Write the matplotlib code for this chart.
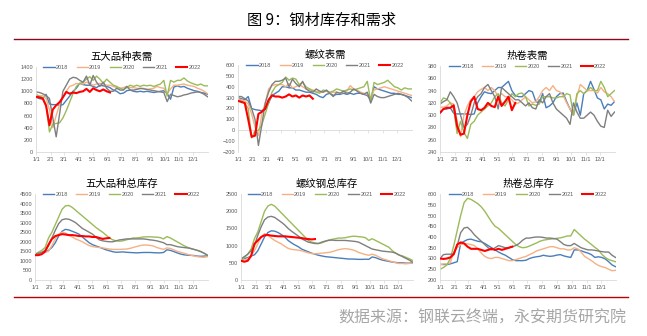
import numpy as np
import matplotlib
matplotlib.use('Agg')
import matplotlib.pyplot as plt
from matplotlib.lines import Line2D

plt.rcParams['font.family'] = ['Liberation Sans', 'Noto Sans CJK SC', 'DejaVu Sans']

# ---- data (weekly) ----
years = ['2018', '2019', '2020', '2021', '2022']
colors = ['#4A7EBB', '#F5B183', '#9BBB59', '#7F7F7F', '#FF0000']
month_labels = ['1/1', '2/1', '3/1', '4/1', '5/1', '6/1', '7/1', '8/1', '9/1', '10/1', '11/1', '12/1']
month_days = [0, 31, 59, 90, 120, 151, 181, 212, 243, 273, 304, 334]

# 五大品种表需
d5_2018 = [900, 880, 870, 950, 790, 780, 780, 770, 780, 850,
           920, 1000, 1050, 1130, 1110, 1100, 1100, 1080, 1060, 1100,
           1090, 1080, 1060, 1020, 1000, 960, 970, 1010, 1020, 1000,
           990, 1000, 990, 1000, 990, 980, 990, 1000, 1010, 960,
           870, 1070, 1090, 1070, 1080, 1050, 1030, 1010, 1000, 980,
           970, 950]
d5_2019 = [880, 920, 930, 880, 700, 400, 600, 780, 900, 1000,
           1080, 1100, 1130, 1120, 1120, 1150, 1130, 1100, 1120, 1130,
           1120, 1100, 1100, 1080, 1060, 1050, 1060, 1080, 1060, 1060,
           1050, 1040, 1050, 1030, 1040, 1050, 1080, 1060, 1050, 960,
           1040, 1100, 1100, 1110, 1120, 1100, 1090, 1080, 1050, 1030,
           1000, 960]
d5_2020 = [950, 920, 900, 780, 330, 460, 470, 480, 560, 680,
           820, 960, 1080, 1130, 1150, 1200, 1240, 1180, 1250, 1200,
           1130, 1200, 1150, 1100, 1080, 1050, 1030, 1060, 1100, 1080,
           1100, 1080, 1100, 1090, 1100, 1080, 1100, 1120, 1180, 920,
           1180, 1150, 1180, 1180, 1220, 1170, 1140, 1120, 1100, 1120,
           1090, 1090]
d5_2021 = [990, 980, 960, 930, 880, 560, 250, 620, 1000, 1100,
           1200, 1230, 1220, 1180, 1150, 1250, 1100, 1260, 1150, 1080,
           1150, 1050, 1000, 1000, 1050, 1020, 1020, 1080, 1020, 1020,
           1030, 1050, 1040, 1030, 1020, 1010, 1000, 990, 980, 830,
           950, 930, 910, 920, 940, 950, 970, 980, 990, 980,
           950, 910]
d5_2022 = [910, 900, 880, 760, 440, 700, 770, 820, 900, 990, 960, 980, 970,
           990, 1000, 1040, 990, 1050, 1020, 1000, 1030, 1000, 980]

# 螺纹表需
rb_2018 = [300, 290, 280, 310, 200, 190, 185, 180, 190, 250,
           320, 340, 360, 400, 400, 390, 390, 370, 370, 360,
           350, 350, 340, 330, 310, 300, 330, 340, 320, 330,
           330, 340, 330, 340, 330, 340, 340, 330, 320, 280,
           400, 380, 370, 360, 350, 340, 340, 330, 330, 320,
           310, 300]
rb_2019 = [290, 280, 270, 240, 150, 30, -50, 150, 250, 380,
           410, 420, 420, 420, 400, 430, 390, 400, 420, 400,
           380, 380, 370, 360, 350, 350, 360, 340, 350, 350,
           340, 350, 360, 410, 380, 370, 350, 340, 330, 300,
           370, 380, 390, 400, 390, 380, 370, 360, 350, 340,
           330, 320]
rb_2020 = [280, 270, 250, 200, -70, -10, 0, 50, 150, 250,
           350, 400, 420, 440, 490, 460, 480, 470, 420, 440,
           400, 380, 360, 350, 340, 370, 360, 350, 360, 380,
           370, 360, 370, 380, 370, 380, 390, 400, 450, 270,
           440, 420, 430, 440, 460, 430, 400, 390, 370, 390,
           380, 380]
rb_2021 = [310, 310, 290, 270, 200, 100, -140, 50, 250, 350,
           420, 450, 450, 460, 480, 400, 470, 430, 400, 450,
           380, 360, 350, 380, 360, 350, 370, 340, 310, 350,
           340, 360, 340, 350, 380, 360, 340, 330, 350, 250,
           330, 310, 300, 300, 310, 320, 330, 340, 330, 320,
           300, 270]
rb_2022 = [270, 260, 250, 100, -60, -50, 150, 170, 200, 280, 320, 310, 310,
           300, 310, 330, 310, 320, 300, 320, 310, 320, 290]

# 热卷表需
hc_2018 = [303, 310, 310, 312, 303, 302, 302, 302, 302, 301,
           302, 320, 330, 338, 336, 335, 340, 345, 345, 350,
           355, 340, 332, 330, 330, 335, 340, 338, 322, 320,
           335, 312, 315, 320, 330, 335, 336, 322, 310, 300,
           320, 300, 335, 340, 355, 342, 328, 325, 310, 318,
           316, 322]
hc_2019 = [313, 313, 315, 320, 318, 290, 265, 300, 315, 325,
           330, 338, 342, 345, 340, 345, 340, 330, 335, 330,
           330, 325, 318, 320, 325, 330, 325, 320, 322, 330,
           340, 345, 340, 348, 340, 338, 332, 320, 310, 300,
           330, 350, 345, 340, 340, 340, 336, 345, 338, 335,
           330, 322]
hc_2020 = [320, 328, 326, 320, 310, 270, 290, 272, 262, 285,
           290, 300, 305, 310, 315, 320, 330, 335, 320, 315,
           325, 335, 330, 335, 336, 330, 315, 318, 316, 318,
           330, 330, 330, 328, 328, 330, 330, 335, 333, 300,
           335, 340, 335, 340, 345, 340, 340, 355, 345, 330,
           335, 340]
hc_2021 = [318, 322, 325, 338, 330, 320, 300, 280, 285, 300,
           320, 330, 335, 345, 350, 340, 330, 310, 345, 340,
           335, 330, 325, 325, 320, 315, 320, 312, 310, 325,
           320, 330, 335, 320, 310, 305, 300, 295, 285, 320,
           305, 295, 295, 300, 305, 300, 290, 282, 280, 308,
           298, 305]
hc_2022 = [304, 310, 312, 312, 316, 282, 268, 270, 300, 322, 330, 310, 308,
           312, 320, 315, 313, 330, 315, 322, 330, 308, 320]

# 五大品种总库存
inv5_2018 = [1300, 1350, 1400, 1450, 1550, 1700, 1950, 2300, 2550, 2650,
             2620, 2550, 2480, 2400, 2250, 2100, 1950, 1850, 1780, 1720,
             1650, 1580, 1530, 1480, 1450, 1460, 1470, 1450, 1440, 1430,
             1420, 1430, 1440, 1440, 1440, 1430, 1420, 1420, 1440, 1580,
             1550, 1490, 1420, 1360, 1320, 1300, 1290, 1280, 1250, 1240,
             1250, 1270]
inv5_2019 = [1300, 1350, 1400, 1450, 1500, 1800, 2150, 2400, 2500, 2450,
             2350, 2250, 2150, 2080, 2000, 1900, 1800, 1750, 1720, 1700,
             1680, 1650, 1620, 1600, 1600, 1600, 1610, 1620, 1650, 1700,
             1750, 1800, 1830, 1830, 1810, 1780, 1700, 1650, 1600, 1680,
             1650, 1580, 1500, 1450, 1400, 1350, 1300, 1260, 1220, 1200,
             1190, 1220]
inv5_2020 = [1350, 1450, 1550, 1700, 2200, 2500, 2900, 3300, 3700, 3880,
             3900, 3800, 3650, 3500, 3350, 3200, 3050, 2900, 2750, 2620,
             2500, 2350, 2200, 2100, 2050, 2030, 2050, 2100, 2150, 2200,
             2200, 2220, 2250, 2260, 2260, 2250, 2240, 2220, 2150, 2270,
             2200, 2100, 2000, 1900, 1800, 1720, 1650, 1600, 1550, 1500,
             1400, 1280]
inv5_2021 = [1350, 1400, 1450, 1550, 1800, 2200, 2600, 2950, 3150, 3200,
             3180, 3100, 3000, 2850, 2700, 2600, 2500, 2400, 2250, 2100,
             2050, 2020, 2000, 2000, 2050, 2100, 2120, 2150, 2150, 2150,
             2150, 2150, 2150, 2130, 2100, 2080, 2050, 2000, 1950, 1850,
             1850, 1800, 1750, 1720, 1700, 1680, 1650, 1600, 1550, 1480,
             1400, 1300]
inv5_2022 = [1300, 1300, 1350, 1500, 1850, 2150, 2300, 2350, 2400, 2380, 2350, 2350,
             2330, 2300, 2300, 2280, 2280, 2250, 2250, 2200, 2150, 2180, 2200]

# 螺纹钢总库存
rbi_2018 = [600, 620, 650, 700, 730, 850, 1050, 1250, 1380, 1430,
            1420, 1380, 1320, 1250, 1150, 1080, 1020, 970, 900, 860,
            820, 780, 750, 720, 700, 680, 670, 660, 650, 640,
            630, 620, 610, 610, 605, 600, 600, 605, 600, 670,
            650, 610, 580, 560, 540, 520, 510, 500, 500, 490,
            490, 500]
rbi_2019 = [550, 580, 620, 700, 850, 1050, 1250, 1350, 1300, 1220,
            1150, 1100, 1050, 980, 920, 890, 880, 870, 850, 820,
            790, 770, 760, 770, 780, 790, 800, 820, 850, 880,
            900, 910, 900, 880, 850, 800, 770, 740, 720, 750,
            720, 670, 620, 590, 560, 530, 500, 480, 480, 470,
            480, 500]
rbi_2020 = [580, 650, 750, 900, 1200, 1400, 1700, 2000, 2150, 2200,
            2150, 2050, 1950, 1850, 1750, 1650, 1550, 1450, 1350, 1250,
            1150, 1100, 1080, 1060, 1080, 1120, 1160, 1180, 1200, 1220,
            1220, 1230, 1250, 1270, 1270, 1260, 1250, 1230, 1150, 1200,
            1150, 1100, 1050, 1000, 950, 850, 780, 720, 700, 660,
            620, 570]
rbi_2021 = [620, 680, 750, 850, 1000, 1300, 1550, 1750, 1830, 1850,
            1820, 1750, 1680, 1600, 1500, 1420, 1350, 1280, 1200, 1150,
            1100, 1080, 1060, 1060, 1100, 1130, 1150, 1160, 1150, 1150,
            1150, 1150, 1140, 1130, 1120, 1100, 1050, 1000, 950, 900,
            880, 860, 840, 830, 820, 810, 780, 730, 680, 630,
            580, 520]
rbi_2022 = [560, 530, 560, 700, 1050, 1150, 1250, 1300, 1310, 1290, 1280, 1270,
            1270, 1270, 1260, 1250, 1240, 1230, 1220, 1200, 1190, 1180, 1190]

# 热卷总库存
hci_2018 = [273, 272, 272, 275, 280, 285, 370, 380, 388, 390,
            385, 380, 378, 370, 360, 350, 340, 330, 322, 315,
            305, 295, 290, 290, 290, 292, 300, 305, 308, 310,
            315, 312, 310, 312, 316, 318, 312, 308, 305, 340,
            340, 336, 330, 325, 318, 305, 308, 305, 298, 285,
            270, 262]
hci_2019 = [270, 275, 275, 280, 330, 350, 365, 370, 368, 365,
            360, 345, 325, 310, 302, 300, 305, 305, 300, 295,
            290, 290, 295, 300, 305, 310, 318, 325, 335, 340,
            345, 350, 355, 355, 350, 345, 345, 340, 340, 350,
            345, 330, 310, 300, 290, 278, 268, 262, 258, 250,
            243, 245]
hci_2020 = [250, 258, 270, 300, 360, 430, 500, 560, 580, 575,
            565, 555, 540, 520, 495, 470, 450, 440, 425, 410,
            395, 380, 365, 355, 350, 352, 358, 365, 372, 380,
            385, 388, 390, 392, 394, 396, 400, 405, 405, 435,
            420, 405, 390, 378, 365, 352, 340, 320, 305, 295,
            290, 285]
hci_2021 = [300, 318, 320, 320, 322, 360, 420, 442, 445, 430,
            410, 395, 380, 365, 350, 340, 350, 360, 355, 350,
            350, 355, 360, 370, 385, 395, 395, 398, 400, 400,
            398, 395, 395, 393, 390, 378, 365, 360, 360, 370,
            360, 350, 345, 340, 340, 338, 335, 332, 330, 330,
            315, 305]
hci_2022 = [300, 298, 300, 305, 320, 365, 375, 370, 355, 345, 345,
            345, 340, 335, 340, 345, 340, 345, 340, 345, 350, 355]

panels = [
    ('五大品种表需', [d5_2018, d5_2019, d5_2020, d5_2021, d5_2022], (0, 1400), 200),
    ('螺纹表需', [rb_2018, rb_2019, rb_2020, rb_2021, rb_2022], (-200, 600), 100),
    ('热卷表需', [hc_2018, hc_2019, hc_2020, hc_2021, hc_2022], (240, 380), 20),
    ('五大品种总库存', [inv5_2018, inv5_2019, inv5_2020, inv5_2021, inv5_2022], (0, 4500), 500),
    ('螺纹钢总库存', [rbi_2018, rbi_2019, rbi_2020, rbi_2021, rbi_2022], (0, 2500), 500),
    ('热卷总库存', [hci_2018, hci_2019, hci_2020, hci_2021, hci_2022], (200, 600), 50),
]

# axes boxes in pixels: left, top, right, bottom
W, H = 647, 336
boxes = [(36, 67, 208, 152), (238, 65, 412, 152), (440, 66, 615, 152),
         (35, 194, 208, 280), (241, 194, 413, 280), (440, 194, 616, 280)]

fig = plt.figure(figsize=(W / 100, H / 100), dpi=100)
fig.patch.set_facecolor('white')

axis_col = '#D9D9D9'
text_col = '#595959'
week = 364 / 51

for (title, series, ylim, step), (l, t, r, b) in zip(panels, boxes):
    ax = fig.add_axes([l / W, 1 - b / H, (r - l) / W, (b - t) / H])
    for yr, vals, c in zip(years, series, colors):
        x = np.arange(len(vals)) * week
        lw = 1.5 if yr == '2022' else 1.0
        ax.plot(x, vals, color=c, lw=lw, label=yr, zorder=3 if yr == '2022' else 2)
    ax.set_xlim(0, 365)
    ax.set_ylim(*ylim)
    ax.set_yticks(np.arange(ylim[0], ylim[1] + step / 2, step))
    ax.set_xticks(month_days)
    ax.set_xticklabels(month_labels)
    for s in ['top', 'right']:
        ax.spines[s].set_visible(False)
    ax.spines['left'].set_color(axis_col)
    ax.spines['left'].set_linewidth(0.6)
    ax.spines['bottom'].set_color(axis_col)
    ax.spines['bottom'].set_linewidth(0.6)
    ax.tick_params(axis='y', length=0, labelsize=4, pad=2, labelcolor=text_col)
    ax.tick_params(axis='x', length=2, width=0.5, color=axis_col, labelsize=4,
                   pad=1.5, labelcolor=text_col)
    if ylim[0] < 0:
        # category axis crosses at zero, labels stay low
        ax.spines['bottom'].set_visible(False)
        ax.tick_params(axis='x', length=0, pad=3.5)
        sec = ax.secondary_xaxis((0 - ylim[0]) / (ylim[1] - ylim[0]))
        sec.set_xticks(month_days)
        sec.tick_params(length=2, width=0.5, color=axis_col, labelbottom=False)
        sec.spines['bottom'].set_color(axis_col)
        sec.spines['bottom'].set_linewidth(0.6)
    ax.set_title(title, fontsize=7.5, family=['Noto Sans CJK SC'], pad=5, color='#000000')
    ax.legend(ncol=5, loc='upper center', bbox_to_anchor=(0.5, 1.02), frameon=False,
              fontsize=4, handlelength=2.0, handletextpad=0.25, columnspacing=1.5,
              borderaxespad=0, borderpad=0, labelcolor=text_col)

fig.text(322 / W, 1 - 20 / H, '图 9：钢材库存和需求', ha='center', va='center',
         fontsize=11, family=['Noto Sans CJK SC'], color='#000000')
fig.add_artist(Line2D([14 / W, 628 / W], [1 - 39 / H] * 2, color='#8B0A1A', lw=1.0))
fig.add_artist(Line2D([14 / W, 628 / W], [1 - 297 / H] * 2, color='#C00000', lw=1.0))
fig.text(626 / W, 1 - 318 / H, '数据来源：钢联云终端，永安期货研究院', ha='right', va='center',
         fontsize=11.5, family=['Noto Sans CJK SC'], color='#A6A6A6')

fig.savefig('out.png', dpi=100)
